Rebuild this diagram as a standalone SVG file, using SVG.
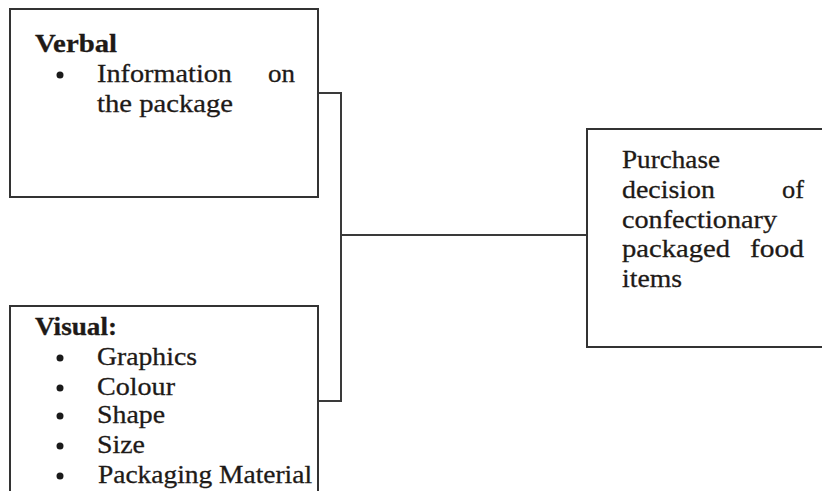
<svg xmlns="http://www.w3.org/2000/svg" width="822" height="491" viewBox="0 0 822 491">
<style>
.box{fill:#fff;stroke:#333;stroke-width:2}
.ln{fill:none;stroke:#3a3a3a;stroke-width:2}
text{font-family:"Liberation Serif","Times New Roman",serif;font-size:26px;fill:#1e1a17;stroke:#1e1a17;stroke-width:0.3}
.b{font-weight:bold}
.dot{fill:#1a1a1a}
</style>
<rect width="822" height="491" fill="#fff"/>
<g id="connectors">
<polyline class="ln" points="318,93 341,93 341,401 318,401"/>
<line class="ln" x1="341" y1="235" x2="587" y2="235"/>
</g>
<g id="verbal">
<rect class="box" x="10" y="9" width="308" height="188"/>
<text class="b" x="35" y="52" textLength="82" lengthAdjust="spacingAndGlyphs">Verbal</text>
<circle class="dot" cx="60" cy="75" r="3.5"/>
<text x="97" y="82" textLength="135" lengthAdjust="spacingAndGlyphs">Information</text>
<text x="268" y="82" textLength="27" lengthAdjust="spacingAndGlyphs">on</text>
<text x="97" y="112" textLength="136" lengthAdjust="spacingAndGlyphs">the package</text>
</g>
<g id="visual">
<rect class="box" x="10" y="306" width="308" height="200"/>
<text class="b" x="35" y="335" textLength="82" lengthAdjust="spacingAndGlyphs">Visual:</text>
<circle class="dot" cx="60" cy="358" r="3.5"/>
<text x="97" y="365" textLength="100" lengthAdjust="spacingAndGlyphs">Graphics</text>
<circle class="dot" cx="60" cy="388" r="3.5"/>
<text x="97" y="395" textLength="78" lengthAdjust="spacingAndGlyphs">Colour</text>
<circle class="dot" cx="60" cy="416" r="3.5"/>
<text x="97" y="423" textLength="68" lengthAdjust="spacingAndGlyphs">Shape</text>
<circle class="dot" cx="60" cy="446" r="3.5"/>
<text x="97" y="453" textLength="48" lengthAdjust="spacingAndGlyphs">Size</text>
<circle class="dot" cx="60" cy="476" r="3.5"/>
<text x="98" y="483" textLength="214" lengthAdjust="spacingAndGlyphs">Packaging Material</text>
</g>
<g id="purchase">
<rect class="box" x="587" y="129" width="250" height="218"/>
<text x="622" y="168" textLength="98" lengthAdjust="spacingAndGlyphs">Purchase</text>
<text x="622" y="198" textLength="93" lengthAdjust="spacingAndGlyphs">decision</text>
<text x="782" y="198" textLength="22" lengthAdjust="spacingAndGlyphs">of</text>
<text x="622" y="228" textLength="155" lengthAdjust="spacingAndGlyphs">confectionary</text>
<text x="622" y="257" textLength="108" lengthAdjust="spacingAndGlyphs">packaged</text>
<text x="750" y="257" textLength="54" lengthAdjust="spacingAndGlyphs">food</text>
<text x="622" y="287" textLength="60" lengthAdjust="spacingAndGlyphs">items</text>
</g>
</svg>
